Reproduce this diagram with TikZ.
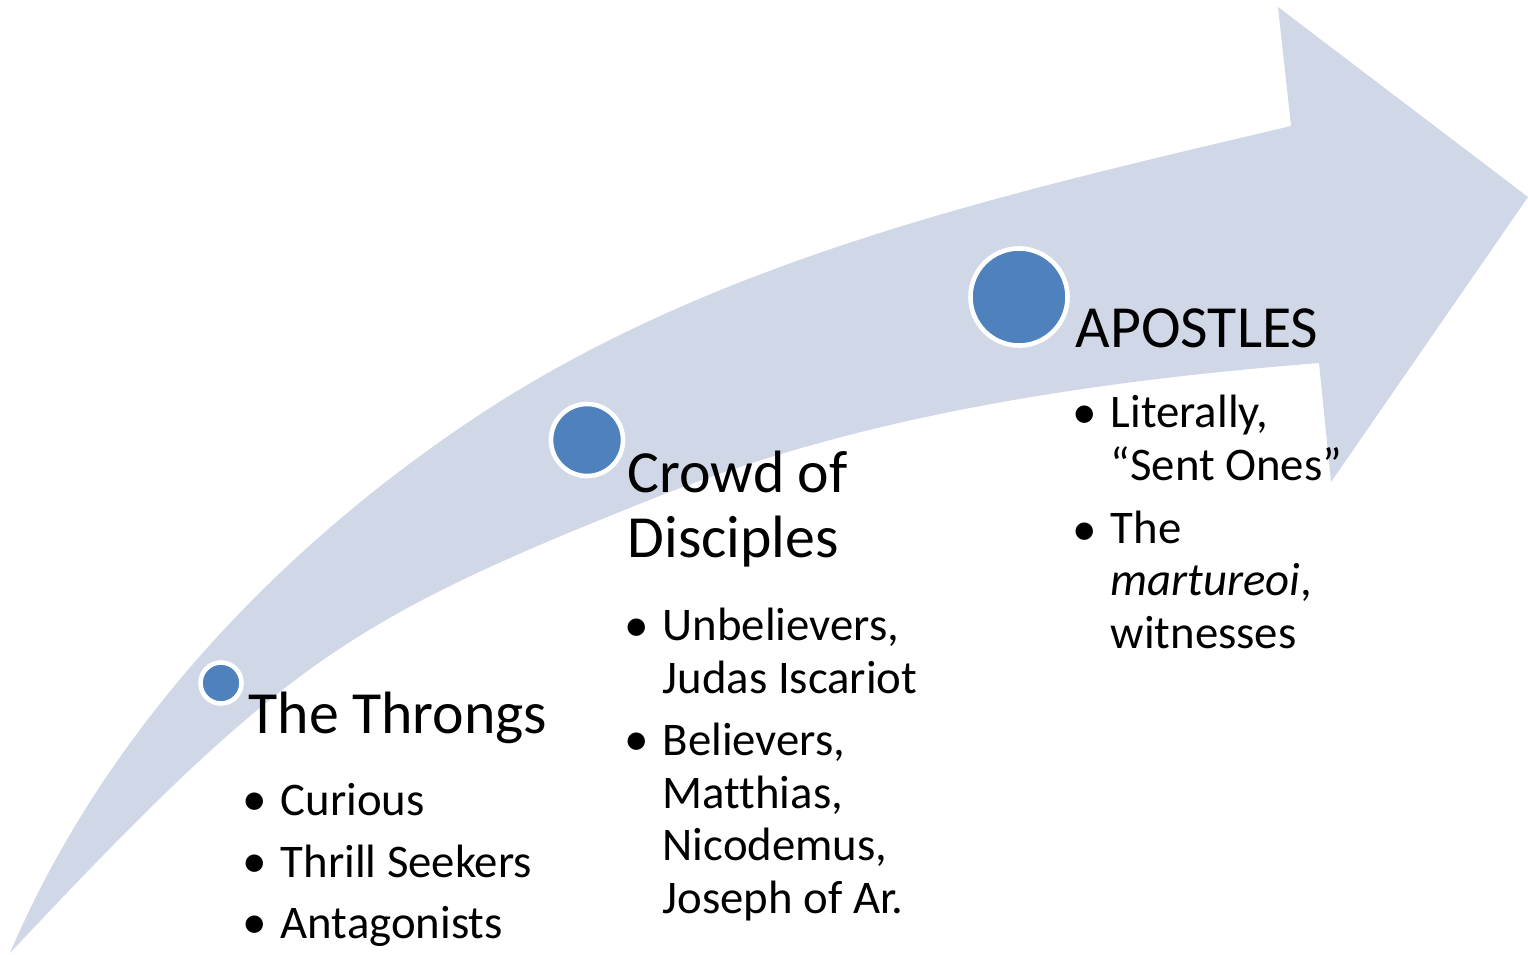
\documentclass[tikz,border=0pt]{standalone}
\usepackage{fontspec}
\setmainfont[Ligatures=NoCommon]{Carlito}
\definecolor{bandfill}{HTML}{D0D8E8}
\definecolor{stageblue}{HTML}{4F81BD}
\tikzset{
  stagedot/.style={circle,fill=stageblue,draw=white,line width=1.3pt,inner sep=0pt},
  heading/.style={anchor=base west,inner sep=0pt,align=left,font=\fontsize{17}{18.4}\selectfont},
  bulletmark/.style={anchor=base,inner sep=0pt,font=\fontsize{14}{14.9}\selectfont},
  entry/.style={anchor=base west,inner sep=0pt,align=left,font=\fontsize{13.3}{14.9}\selectfont}
}
\begin{document}
\begin{tikzpicture}[x=0.01cm,y=-0.01cm]
            \useasboundingbox (0,0) rectangle (1528,954);
            % curved band with its head
            \fill[bandfill] (10,953) .. controls (104,732) and (279,547) .. (479,415)
              .. controls (719,257) and (1012,192) .. (1291,126)
              -- (1278,7) -- (1528,197) -- (1331,482) -- (1319,363)
              .. controls (1095,381) and (866,414) .. (657,497)
              .. controls (350,619) and (284,661) .. (10,953) -- cycle;
            % stages
            \node[stagedot,minimum size=0.41cm] (throngsdot) at (221,683) {};
            \node[stagedot,minimum size=0.72cm] (crowddot) at (587,440) {};
            \node[stagedot,minimum size=0.97cm] (apostlesdot) at (1019,297) {};
            % base of a node with several lines is its last line
            \node[heading] (throngs) at (248,733) {The Throngs};
            \node[heading] (crowd) at (627,557) {Crowd of\\Disciples};
            \node[heading] (apostles) at (1075,347) {APOSTLES};
            % the throngs
            \node[bulletmark] (tb1) at (255,815) {\textbullet};
            \node[entry] (curious) at (280,815) {Curious};
            \node[bulletmark] (tb2) at (255,877) {\textbullet};
            \node[entry] (thrill) at (280,877) {Thrill Seekers};
            \node[bulletmark] (tb3) at (255,938) {\textbullet};
            \node[entry] (antagonists) at (280,938) {Antagonists};
            % the crowd
            \node[bulletmark] (cb1) at (637,641) {\textbullet};
            \node[entry] (unbelievers) at (662,693) {Unbelievers,\\Judas Iscariot};
            \node[bulletmark] (cb2) at (637,755) {\textbullet};
            \node[entry] (believers) at (662,913) {Believers,\\Matthias,\\Nicodemus,\\Joseph of Ar.};
            % the apostles
            \node[bulletmark] (ab1) at (1085,428) {\textbullet};
            \node[entry] (literally) at (1110,480) {Literally,\\“Sent Ones”};
            \node[bulletmark] (ab2) at (1085,545) {\textbullet};
            \node[entry] (martureoi) at (1110,648) {The\\\textit{martureoi},\\witnesses};
\end{tikzpicture}
\end{document}
